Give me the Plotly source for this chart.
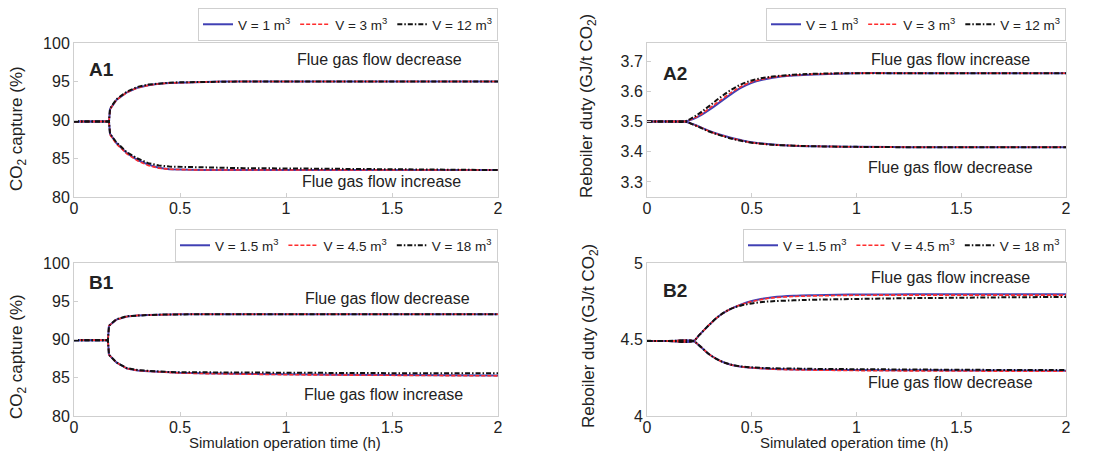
import plotly.graph_objects as go

W, H = 1102, 459
OFF = 8  # default page body margin in the browser

# ---------------- data ----------------
# A1: CO2 capture (%), small volumes
tA1 = [0, 0.165, 0.17, 0.2, 0.25, 0.3, 0.35, 0.4, 0.45, 0.5, 0.6, 0.7, 0.8, 1.0, 1.25, 1.5, 1.75, 2.0]
A1_dec_v1 = [89.8, 89.8, 91.4, 92.6, 93.6, 94.2, 94.5, 94.7, 94.8, 94.85, 94.95, 95.0, 95.0, 95.0, 95.0, 95.0, 95.0, 95.0]
A1_dec_v3 = [89.8, 89.8, 91.4, 92.6, 93.6, 94.2, 94.5, 94.7, 94.8, 94.85, 94.95, 95.0, 95.0, 95.0, 95.0, 95.0, 95.0, 95.0]
A1_dec_v12 = [89.8, 89.8, 91.5, 92.7, 93.7, 94.3, 94.6, 94.75, 94.85, 94.9, 94.95, 95.0, 95.0, 95.0, 95.0, 95.0, 95.0, 95.0]
A1_inc_v1 = [89.8, 89.8, 88.2, 87.0, 85.7, 84.8, 84.2, 83.8, 83.6, 83.55, 83.5, 83.5, 83.5, 83.5, 83.5, 83.5, 83.5, 83.5]
A1_inc_v3 = [89.8, 89.8, 88.1, 86.9, 85.6, 84.7, 84.1, 83.75, 83.6, 83.55, 83.5, 83.5, 83.5, 83.5, 83.5, 83.5, 83.5, 83.5]
A1_inc_v12 = [89.8, 89.8, 88.2, 87.1, 85.8, 85.0, 84.4, 84.1, 83.95, 83.9, 83.85, 83.8, 83.75, 83.7, 83.65, 83.6, 83.55, 83.5]

# A2: reboiler duty (GJ/t CO2), small volumes
tA2 = [0, 0.1, 0.18, 0.22, 0.26, 0.3, 0.35, 0.4, 0.45, 0.5, 0.55, 0.6, 0.7, 0.8, 1.0, 1.25, 1.5, 1.75, 2.0]
A2_inc_v1 = [3.5, 3.5, 3.5, 3.508, 3.522, 3.54, 3.565, 3.59, 3.612, 3.628, 3.638, 3.645, 3.652, 3.656, 3.66, 3.66, 3.66, 3.66, 3.66]
A2_inc_v3 = [3.5, 3.5, 3.5, 3.51, 3.525, 3.545, 3.57, 3.595, 3.616, 3.631, 3.64, 3.647, 3.653, 3.657, 3.66, 3.66, 3.66, 3.66, 3.66]
A2_inc_v12 = [3.5, 3.5, 3.5, 3.514, 3.532, 3.553, 3.58, 3.604, 3.623, 3.636, 3.644, 3.649, 3.655, 3.658, 3.66, 3.66, 3.66, 3.66, 3.66]
A2_dec_v1 = [3.5, 3.5, 3.5, 3.491, 3.48, 3.468, 3.456, 3.446, 3.438, 3.431, 3.427, 3.424, 3.42, 3.418, 3.416, 3.415, 3.415, 3.415, 3.415]
A2_dec_v3 = [3.5, 3.5, 3.5, 3.49, 3.479, 3.467, 3.455, 3.445, 3.437, 3.43, 3.426, 3.423, 3.42, 3.418, 3.416, 3.415, 3.415, 3.415, 3.415]
A2_dec_v12 = [3.5, 3.5, 3.5, 3.49, 3.478, 3.466, 3.454, 3.444, 3.436, 3.43, 3.426, 3.423, 3.42, 3.418, 3.416, 3.415, 3.415, 3.415, 3.415]

# B1: CO2 capture (%), large volumes
tB1 = [0, 0.16, 0.165, 0.2, 0.25, 0.3, 0.35, 0.4, 0.45, 0.5, 0.6, 0.7, 0.8, 1.0, 1.25, 1.5, 1.75, 2.0]
B1_dec_v1 = [89.9, 89.9, 91.8, 92.6, 93.0, 93.15, 93.2, 93.25, 93.28, 93.3, 93.3, 93.3, 93.3, 93.3, 93.3, 93.3, 93.3, 93.3]
B1_dec_v3 = [89.9, 89.9, 91.8, 92.6, 93.0, 93.15, 93.2, 93.25, 93.28, 93.3, 93.3, 93.3, 93.3, 93.3, 93.3, 93.3, 93.3, 93.3]
B1_dec_v12 = [89.9, 89.9, 91.8, 92.65, 93.05, 93.15, 93.2, 93.25, 93.28, 93.3, 93.3, 93.3, 93.3, 93.3, 93.3, 93.3, 93.3, 93.3]
B1_inc_v1 = [89.9, 89.9, 88.0, 87.0, 86.2, 85.95, 85.85, 85.75, 85.7, 85.65, 85.6, 85.55, 85.5, 85.45, 85.4, 85.35, 85.3, 85.3]
B1_inc_v3 = [89.9, 89.9, 88.0, 87.0, 86.2, 85.95, 85.85, 85.75, 85.7, 85.62, 85.55, 85.5, 85.45, 85.4, 85.35, 85.3, 85.3, 85.25]
B1_inc_v12 = [89.9, 89.9, 88.0, 87.0, 86.25, 86.0, 85.9, 85.8, 85.75, 85.72, 85.7, 85.68, 85.65, 85.62, 85.6, 85.6, 85.6, 85.6]

# B2: reboiler duty (GJ/t CO2), large volumes
tB2 = [0, 0.1, 0.22, 0.25, 0.3, 0.35, 0.4, 0.45, 0.5, 0.55, 0.6, 0.7, 0.8, 1.0, 1.25, 1.5, 1.75, 2.0]
B2_inc_v1 = [4.49, 4.49, 4.49, 4.53, 4.6, 4.66, 4.7, 4.73, 4.752, 4.766, 4.776, 4.786, 4.79, 4.794, 4.795, 4.795, 4.795, 4.795]
B2_inc_v3 = [4.49, 4.49, 4.49, 4.53, 4.6, 4.66, 4.7, 4.728, 4.748, 4.762, 4.772, 4.781, 4.785, 4.789, 4.79, 4.79, 4.79, 4.79]
B2_inc_v12 = [4.49, 4.49, 4.49, 4.53, 4.6, 4.66, 4.7, 4.722, 4.736, 4.745, 4.75, 4.756, 4.76, 4.765, 4.77, 4.773, 4.776, 4.778]
B2_dec_v1 = [4.49, 4.49, 4.49, 4.46, 4.40, 4.36, 4.335, 4.322, 4.315, 4.311, 4.308, 4.304, 4.302, 4.3, 4.299, 4.298, 4.297, 4.296]
B2_dec_v3 = [4.49, 4.49, 4.49, 4.46, 4.40, 4.36, 4.335, 4.322, 4.315, 4.31, 4.306, 4.302, 4.3, 4.297, 4.295, 4.294, 4.293, 4.292]
B2_dec_v12 = [4.49, 4.49, 4.49, 4.46, 4.40, 4.36, 4.336, 4.324, 4.318, 4.314, 4.312, 4.31, 4.308, 4.306, 4.304, 4.302, 4.301, 4.3]

labels_A = ["V = 1 m<sup>3</sup>", "V = 3 m<sup>3</sup>", "V = 12 m<sup>3</sup>"]
labels_B = ["V = 1.5 m<sup>3</sup>", "V = 4.5 m<sup>3</sup>", "V = 18 m<sup>3</sup>"]

# ---------------- styling ----------------
BLUE, RED, BLACK = "#4040b4", "#ff2d2d", "#111111"
styles = [
    dict(color=BLUE, width=2, dash="solid"),
    dict(color=RED, width=1.6, dash="4px,2px"),
    dict(color=BLACK, width=2, dash="5px,2px,1.5px,2px"),
]
FONT = "Liberation Sans, Arial, sans-serif"

def px_x(p):
    return (p - OFF) / W

def px_y(p):
    return 1 - (p - OFF) / H

fig = go.Figure()

panels = [
    ("A1", tA1, [A1_dec_v1, A1_dec_v3, A1_dec_v12], [A1_inc_v1, A1_inc_v3, A1_inc_v12], labels_A, "x", "y", "legend", "linear"),
    ("A2", tA2, [A2_inc_v1, A2_inc_v3, A2_inc_v12], [A2_dec_v1, A2_dec_v3, A2_dec_v12], labels_A, "x2", "y2", "legend2", "spline"),
    ("B1", tB1, [B1_dec_v1, B1_dec_v3, B1_dec_v12], [B1_inc_v1, B1_inc_v3, B1_inc_v12], labels_B, "x3", "y3", "legend3", "linear"),
    ("B2", tB2, [B2_inc_v1, B2_inc_v3, B2_inc_v12], [B2_dec_v1, B2_dec_v3, B2_dec_v12], labels_B, "x4", "y4", "legend4", "spline"),
]

for name, t, up, down, labs, xa, ya, lg, shape in panels:
    for i in range(3):
        for j, ys in enumerate((up[i], down[i])):
            fig.add_trace(go.Scatter(
                x=t, y=ys, mode="lines", name=labs[i],
                line=dict(color=styles[i]["color"], width=styles[i]["width"],
                          dash=styles[i]["dash"], shape=shape),
                xaxis=xa, yaxis=ya, legend=lg, showlegend=(j == 0),
                legendgroup=name + str(i),
            ))

axis_common = dict(
    showline=True, mirror=True, linecolor="#cfcfcf", linewidth=1,
    ticks="inside", tickcolor="#cfcfcf", ticklen=4, showgrid=False,
    zeroline=False, automargin=False,
    tickfont=dict(family=FONT, size=16, color="#222"),
)

xL = [px_x(74), px_x(498)]
xR = [px_x(647), px_x(1066)]
yA = [px_y(197), px_y(43)]
yB = [px_y(416), px_y(263)]

xt = dict(tickvals=[0, 0.5, 1, 1.5, 2], ticktext=["0", "0.5", "1", "1.5", "2"], range=[0, 2],
          ticklabelstandoff=-3)

fig.update_layout(
    template="none",
    width=W, height=H,
    margin=dict(l=0, r=0, t=0, b=0, pad=0, autoexpand=False),
    paper_bgcolor="white", plot_bgcolor="white",
    font=dict(family=FONT, color="#222"),
    xaxis=dict(domain=xL, anchor="y", **xt, **axis_common),
    yaxis=dict(domain=yA, anchor="x", range=[80, 100], tickvals=[80, 85, 90, 95, 100], **axis_common),
    xaxis2=dict(domain=xR, anchor="y2", **xt, **axis_common),
    yaxis2=dict(domain=yA, anchor="x2", range=[3.25, 3.76], tickvals=[3.3, 3.4, 3.5, 3.6, 3.7], **axis_common),
    xaxis3=dict(domain=xL, anchor="y3", **xt, **axis_common),
    yaxis3=dict(domain=yB, anchor="x3", range=[80, 100], tickvals=[80, 85, 90, 95, 100], **axis_common),
    xaxis4=dict(domain=xR, anchor="y4", **xt, **axis_common),
    yaxis4=dict(domain=yB, anchor="x4", range=[4, 5], tickvals=[4, 4.5, 5], ticktext=["4", "4.5", "5"], **axis_common),
)

leg_common = dict(
    orientation="h", xanchor="right", yanchor="top",
    bgcolor="white", bordercolor="#cfcfcf", borderwidth=1,
    font=dict(family=FONT, size=13.5, color="#222"), itemwidth=30,
    tracegroupgap=0,
)
fig.update_layout(
    legend=dict(x=px_x(498), y=px_y(8), **leg_common),
    legend2=dict(x=px_x(1066), y=px_y(8), **leg_common),
    legend3=dict(x=px_x(498), y=px_y(229), **leg_common),
    legend4=dict(x=px_x(1066), y=px_y(229), **leg_common),
)

ann = []
def text_ann(txt, x, y, xref, yref, size=16, bold=False):
    ann.append(dict(text=("<b>%s</b>" % txt) if bold else txt, x=x, y=y, xref=xref, yref=yref,
                    showarrow=False, font=dict(family=FONT, size=size, color="#222"),
                    xanchor="center", yanchor="middle"))

text_ann("A1", 0.13, 96.6, "x", "y", size=19, bold=True)
text_ann("Flue gas flow decrease", 1.44, 97.8, "x", "y")
text_ann("Flue gas flow increase", 1.45, 81.95, "x", "y")

text_ann("A2", 0.134, 3.66, "x2", "y2", size=19, bold=True)
text_ann("Flue gas flow increase", 1.45, 3.704, "x2", "y2")
text_ann("Flue gas flow decrease", 1.45, 3.349, "x2", "y2")

text_ann("B1", 0.13, 97.4, "x3", "y3", size=19, bold=True)
text_ann("Flue gas flow decrease", 1.48, 95.4, "x3", "y3")
text_ann("Flue gas flow increase", 1.46, 82.75, "x3", "y3")

text_ann("B2", 0.134, 4.82, "x4", "y4", size=19, bold=True)
text_ann("Flue gas flow increase", 1.45, 4.908, "x4", "y4")
text_ann("Flue gas flow decrease", 1.45, 4.216, "x4", "y4")

def vtitle(txt, xp, yp):
    ann.append(dict(text=txt, x=px_x(xp), y=px_y(yp), xref="paper", yref="paper",
                    showarrow=False, textangle=-90, xanchor="center", yanchor="middle",
                    font=dict(family=FONT, size=17, color="#222")))

vtitle("CO<sub>2</sub> capture (%)", 18, 129)
vtitle("Reboiler duty (GJ/t CO<sub>2</sub>)", 588, 106)
vtitle("CO<sub>2</sub> capture (%)", 18, 357)
vtitle("Reboiler duty (GJ/t CO<sub>2</sub>)", 590, 336)

for txt, xp in (("Simulation operation time (h)", 285), ("Simulated operation time (h)", 854)):
    ann.append(dict(text=txt, x=px_x(xp), y=px_y(442), xref="paper", yref="paper",
                    showarrow=False, xanchor="center", yanchor="middle",
                    font=dict(family=FONT, size=15, color="#222")))

fig.update_layout(annotations=ann)

fig.write_html("out.html")
